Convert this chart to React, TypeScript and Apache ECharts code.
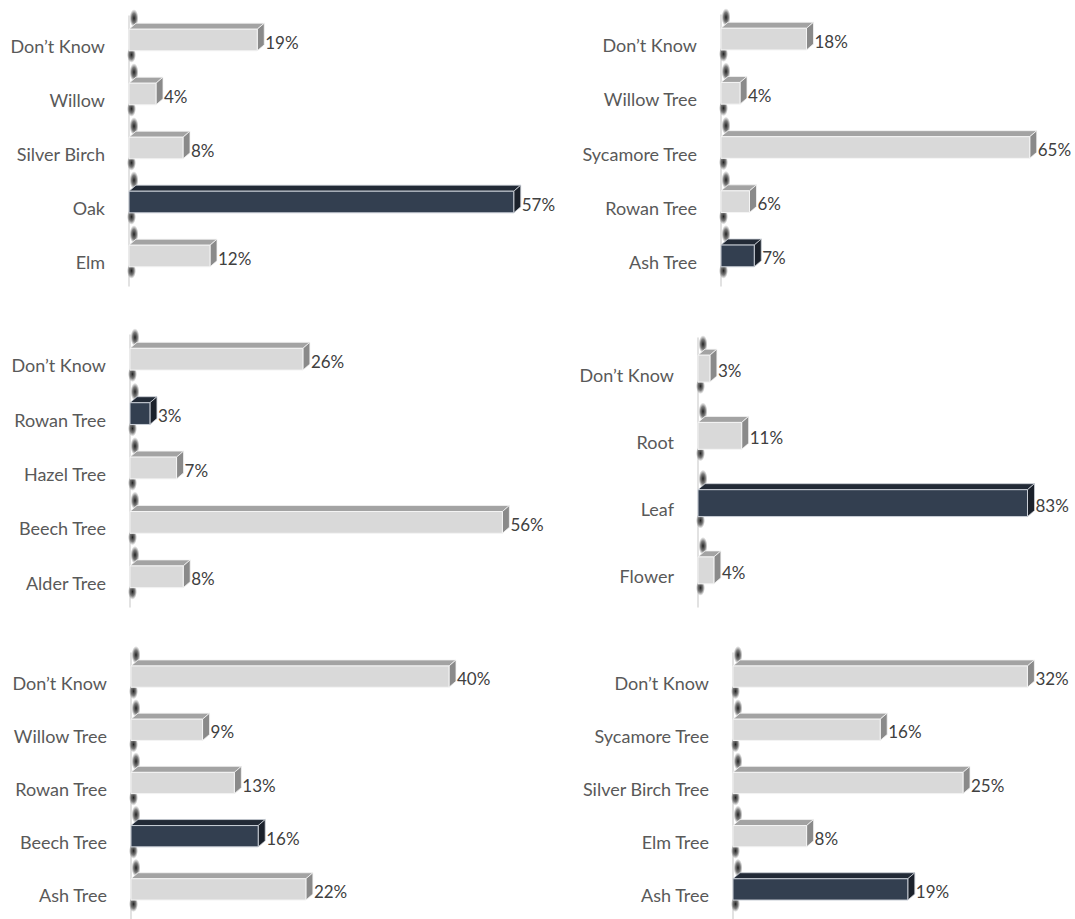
import React, { useEffect, useRef } from "react";
import * as echarts from "echarts";

// ---- Data ----
const P1_CATS = ["Don’t Know", "Willow", "Silver Birch", "Oak", "Elm"];
const P1_VALS = [19, 4, 8, 57, 12];
const P1_ANSWER = "Oak";

const P2_CATS = ["Don’t Know", "Willow Tree", "Sycamore Tree", "Rowan Tree", "Ash Tree"];
const P2_VALS = [18, 4, 65, 6, 7];
const P2_ANSWER = "Ash Tree";

const P3_CATS = ["Don’t Know", "Rowan Tree", "Hazel Tree", "Beech Tree", "Alder Tree"];
const P3_VALS = [26, 3, 7, 56, 8];
const P3_ANSWER = "Rowan Tree";

const P4_CATS = ["Don’t Know", "Root", "Leaf", "Flower"];
const P4_VALS = [3, 11, 83, 4];
const P4_ANSWER = "Leaf";

const P5_CATS = ["Don’t Know", "Willow Tree", "Rowan Tree", "Beech Tree", "Ash Tree"];
const P5_VALS = [40, 9, 13, 16, 22];
const P5_ANSWER = "Beech Tree";

const P6_CATS = ["Don’t Know", "Sycamore Tree", "Silver Birch Tree", "Elm Tree", "Ash Tree"];
const P6_VALS = [32, 16, 25, 8, 19];
const P6_ANSWER = "Ash Tree";

const PANELS = [
  { cats: P1_CATS, vals: P1_VALS, answer: P1_ANSWER },
  { cats: P2_CATS, vals: P2_VALS, answer: P2_ANSWER },
  { cats: P3_CATS, vals: P3_VALS, answer: P3_ANSWER },
  { cats: P4_CATS, vals: P4_VALS, answer: P4_ANSWER },
  { cats: P5_CATS, vals: P5_VALS, answer: P5_ANSWER },
  { cats: P6_CATS, vals: P6_VALS, answer: P6_ANSWER },
];

// ---- Layout (styling) ----
const LAYOUT = [
  { left: 129, top: 16, height: 270, scale: 6.75, max: 60 },
  { left: 721, top: 15, height: 271, scale: 4.75, max: 70 },
  { left: 130, top: 335, height: 272, scale: 6.65, max: 60 },
  { left: 698, top: 338, height: 269, scale: 3.97, max: 90 },
  { left: 131, top: 653, height: 270, scale: 7.95, max: 45 },
  { left: 733, top: 653, height: 270, scale: 9.2, max: 35 },
];

const FONT = "Lato, 'Open Sans', sans-serif";
const DX = 7;
const DY = 6;

function smudgeFill() {
  return new echarts.graphic.RadialGradient(0.5, 0.5, 0.5, [
    { offset: 0, color: "rgba(20,20,20,0.95)" },
    { offset: 0.55, color: "rgba(40,40,40,0.6)" },
    { offset: 1, color: "rgba(80,80,80,0)" },
  ]);
}

function makeRenderItem(panel: { cats: string[]; vals: number[]; answer: string }) {
  return (params: any, api: any) => {
    const v = api.value(0);
    const idx = api.value(1);
    const start = api.coord([0, idx]);
    const end = api.coord([v, idx]);
    const band = api.size([0, 1])[1];
    const h = band * 0.4;
    const cy = end[1] - 3;
    const x0 = start[0];
    const x1 = end[0];
    const yT = cy - h / 2;
    const yB = cy + h / 2;
    const dark = panel.cats[params.dataIndex] === panel.answer;
    const front = dark ? "#333f50" : "#d9d9d9";
    const top = dark ? "#222a36" : "#a3a3a3";
    const side = dark ? "#1b212b" : "#8a8a8a";
    const edge = dark ? "#c9ced6" : "#f4f4f4";
    return {
      type: "group",
      children: [
        {
          type: "ellipse",
          shape: { cx: x0 + 5, cy: yT - DY - 5, rx: 4.5, ry: 9 },
          style: { fill: smudgeFill() },
        },
        {
          type: "ellipse",
          shape: { cx: x0 + 2.5, cy: yB + 4, rx: 4.5, ry: 8 },
          style: { fill: smudgeFill() },
        },
        {
          type: "polygon",
          shape: {
            points: [
              [x0, yT],
              [x0 + DX, yT - DY],
              [x1 + DX, yT - DY],
              [x1, yT],
            ],
          },
          style: { fill: top, stroke: edge, lineWidth: 0.8 },
        },
        {
          type: "polygon",
          shape: {
            points: [
              [x1, yT],
              [x1 + DX, yT - DY],
              [x1 + DX, yB - DY],
              [x1, yB],
            ],
          },
          style: { fill: side, stroke: edge, lineWidth: 0.8 },
        },
        {
          type: "rect",
          shape: { x: x0, y: yT, width: x1 - x0, height: h },
          style: { fill: front, stroke: edge, lineWidth: 1 },
        },
        {
          type: "text",
          x: x1 + DX + 1,
          y: cy + 2,
          style: {
            text: v + "%",
            fill: "#404040",
            font: "17px " + FONT,
            align: "left",
            verticalAlign: "middle",
          },
        },
      ],
    };
  };
}

export default function App() {
  const ref = useRef<HTMLDivElement>(null);
  useEffect(() => {
    if (!ref.current) return;
    const chart = echarts.init(ref.current, undefined, { renderer: "svg" });
    const grids = LAYOUT.map((l) => ({
      left: l.left,
      top: l.top,
      height: l.height,
      width: l.max * l.scale,
      containLabel: false,
    }));
    const xAxes = LAYOUT.map((l, i) => ({
      type: "value",
      gridIndex: i,
      min: 0,
      max: l.max,
      show: false,
    }));
    const yAxes = PANELS.map((p, i) => ({
      type: "category",
      gridIndex: i,
      data: p.cats,
      inverse: true,
      offset: 5,
      axisTick: { show: false },
      axisLine: { show: true, lineStyle: { color: "#d9d9d9", width: 1.5 } },
      splitLine: { show: false },
      axisLabel: {
        color: "#595959",
        fontSize: 18,
        fontFamily: FONT,
        margin: 19,
        lineHeight: 6,
        verticalAlign: "top",
      },
    }));
    const series = PANELS.map((p, i) => ({
      type: "custom",
      xAxisIndex: i,
      yAxisIndex: i,
      renderItem: makeRenderItem(p),
      encode: { x: 0, y: 1 },
      data: p.vals.map((v, j) => [v, j]),
      clip: false,
    }));
    chart.setOption({
      animation: false,
      backgroundColor: "#ffffff",
      grid: grids,
      xAxis: xAxes,
      yAxis: yAxes,
      series,
    });
    return () => chart.dispose();
  }, []);
  return (
    <div
      ref={ref}
      style={{ position: "absolute", left: 0, top: 0, width: 1075, height: 919 }}
    />
  );
}
